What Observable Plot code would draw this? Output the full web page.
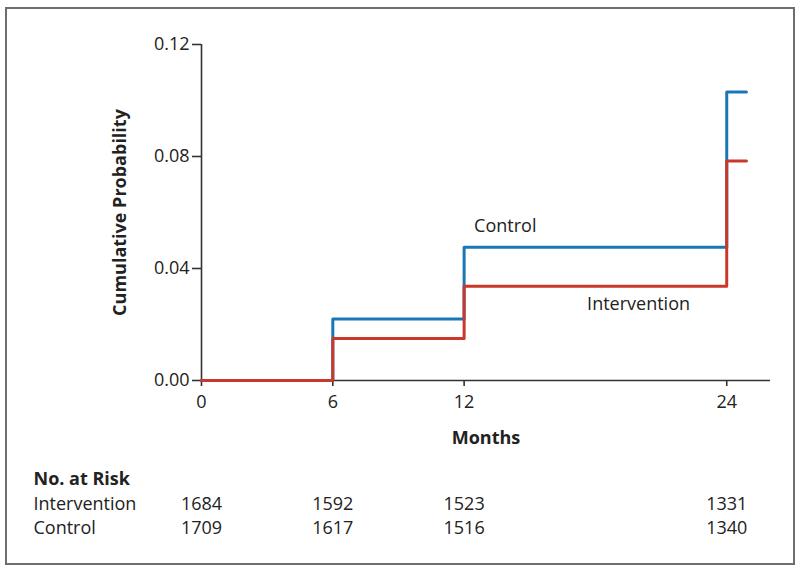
<!DOCTYPE html>
<html>
<head>
<meta charset="utf-8">
<script src="https://cdn.jsdelivr.net/npm/d3@7"></script>
<script src="https://cdn.jsdelivr.net/npm/@observablehq/plot@0.6"></script>
<style>
  html, body { margin: 0; padding: 0; background: #fff; }
  #wrap { position: relative; width: 800px; height: 574px; }
  #border { position: absolute; left: 5px; top: 7px; width: 790px; height: 558px; box-sizing: border-box; border: 2px solid #6e6e6e; pointer-events: none; }
  #chart { position: absolute; left: 0; top: 0; }
</style>
</head>
<body>
<div id="wrap"><div id="chart"></div><div id="border"></div></div>
<script>
// Data
const months = [0, 6, 12, 24, 24.9];
const controlValues = [0, 0.022, 0.0476, 0.103, 0.103];
const interventionValues = [0, 0.015, 0.0337, 0.0784, 0.0784];
const xTicks = [0, 6, 12, 24];
const yTicks = [0, 0.04, 0.08, 0.12];
const riskMonths = [0, 6, 12, 24];
const riskIntervention = [1684, 1592, 1523, 1331];
const riskControl = [1709, 1617, 1516, 1340];

const blue = "#1a77b6";
const red = "#c8392b";
const axisColor = "#333";
const ink = "#222";

const control = months.map((m, i) => ({month: m, value: controlValues[i]}));
const intervention = months.map((m, i) => ({month: m, value: interventionValues[i]}));
const riskI = riskMonths.map((m, i) => ({month: m, n: riskIntervention[i]}));
const riskC = riskMonths.map((m, i) => ({month: m, n: riskControl[i]}));

const font = "'Open Sans', sans-serif";

const chart = Plot.plot({
  width: 800,
  height: 574,
  marginLeft: 201,
  marginRight: 30,
  marginTop: 44,
  marginBottom: 194,
  style: {fontFamily: font, fontSize: "18px", color: ink, background: "transparent"},
  x: {domain: [0, 26]},
  y: {domain: [0, 0.12]},
  marks: [
    Plot.axisY({ticks: yTicks, tickFormat: d3.format(".2f"), tickSize: 9, tickPadding: 3, label: null, stroke: axisColor, strokeWidth: 1.6, fontSize: 18, fill: ink}),
    Plot.axisX({ticks: xTicks, tickFormat: d => String(d), tickSize: 6, tickPadding: 9, label: null, stroke: axisColor, strokeWidth: 1.6, fontSize: 18, fill: ink}),
    Plot.ruleX([0], {stroke: axisColor, strokeWidth: 1.6}),
    Plot.ruleY([0], {stroke: axisColor, strokeWidth: 1.6}),
    Plot.line(control, {x: "month", y: "value", curve: "step-after", stroke: blue, strokeWidth: 3}),
    Plot.line(intervention, {x: "month", y: "value", curve: "step-after", stroke: red, strokeWidth: 3}),
    // series labels
    Plot.text([control[2]], {x: "month", y: "value", text: () => "Control", textAnchor: "start", lineAnchor: "middle", dx: 10, dy: -21, fontSize: 18, fill: ink}),
    Plot.text([intervention[2]], {x: "month", y: "value", text: () => "Intervention", textAnchor: "start", lineAnchor: "middle", dx: 123, dy: 18, fontSize: 18, fill: ink}),
    // axis titles
    Plot.text(["Cumulative Probability"], {frameAnchor: "left", textAnchor: "middle", lineAnchor: "middle", dx: -81, rotate: -90, fontWeight: "bold", fontSize: 18, fill: ink}),
    Plot.text(["Months"], {frameAnchor: "bottom", textAnchor: "middle", lineAnchor: "middle", dy: 58, fontWeight: "bold", fontSize: 18, fill: ink}),
    // number at risk table
    Plot.text(["No. at Risk"], {frameAnchor: "bottom-left", dx: -168, dy: 99, textAnchor: "start", lineAnchor: "middle", fontWeight: "bold", fontSize: 18, fill: ink}),
    Plot.text(["Intervention"], {frameAnchor: "bottom-left", dx: -168, dy: 124, textAnchor: "start", lineAnchor: "middle", fontSize: 18, fill: ink}),
    Plot.text(["Control"], {frameAnchor: "bottom-left", dx: -168, dy: 148, textAnchor: "start", lineAnchor: "middle", fontSize: 18, fill: ink}),
    Plot.text(riskI, {x: "month", frameAnchor: "bottom", text: d => String(d.n), textAnchor: "middle", lineAnchor: "middle", dy: 124, fontSize: 18, fill: ink}),
    Plot.text(riskC, {x: "month", frameAnchor: "bottom", text: d => String(d.n), textAnchor: "middle", lineAnchor: "middle", dy: 148, fontSize: 18, fill: ink})
  ]
});
document.getElementById("chart").appendChild(chart);
</script>
</body>
</html>
